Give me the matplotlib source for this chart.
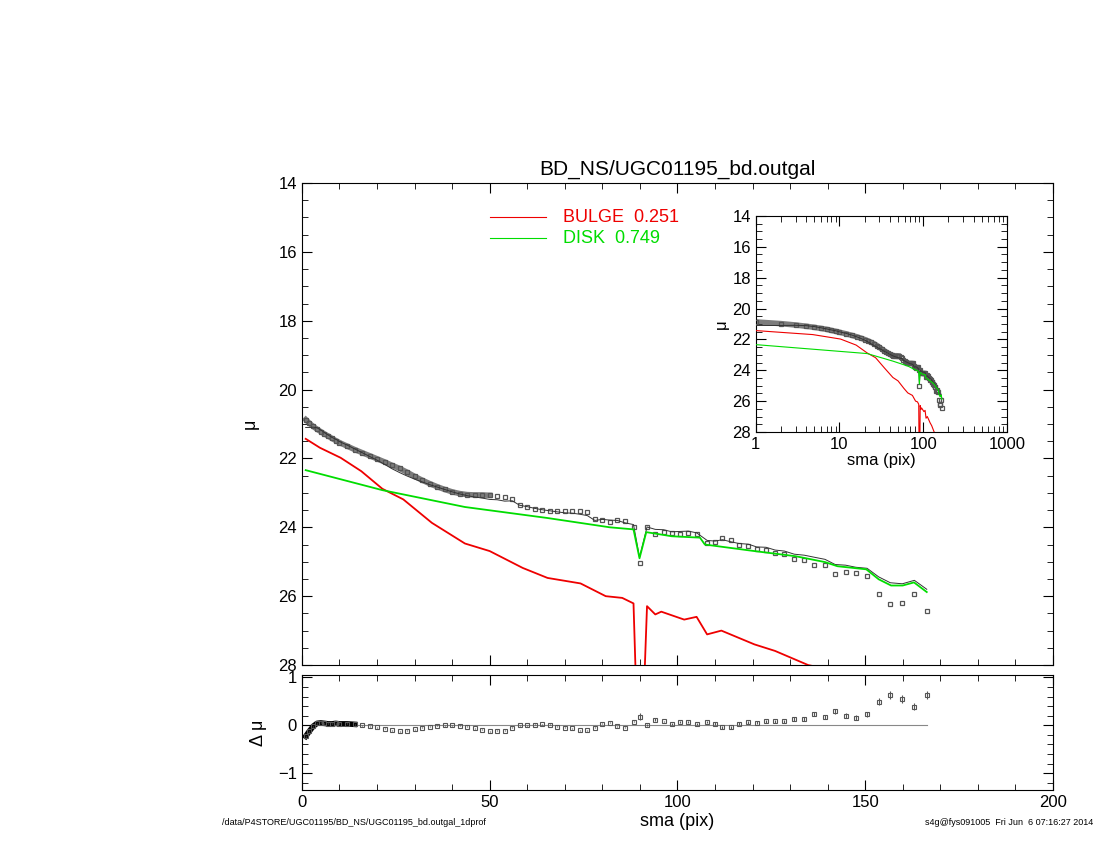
import numpy as np
import matplotlib
matplotlib.use("Agg")
import matplotlib.pyplot as plt
from matplotlib.ticker import MultipleLocator, LogLocator, NullFormatter

plt.rcParams['font.family'] = ['Liberation Sans', 'DejaVu Sans']

# observed isophote profile
sma_obs = [1, 2, 3, 4, 5, 6, 7, 8, 9, 10,
           12, 14, 16, 18, 20, 22, 24, 26, 28, 30,
           32, 34, 36, 38, 40, 42, 44, 46, 48, 50,
           52, 54, 56, 58, 60, 62, 64, 66, 68, 70,
           72, 74, 76, 78, 80, 82, 84, 86, 88.3,
           89.9, 91.9, 94.1, 96.3, 98.5, 100.7, 102.9, 105.1,
           107.9, 110, 112, 114.2, 116.4, 118.9, 121.1, 123.6, 126, 128.5, 131.1, 133.8,
           136.5, 139.3, 142, 144.8, 147.5, 150.5, 153.6, 156.7, 159.9, 163.1, 166.4]
mu_obs = [20.87, 20.98, 21.07, 21.15, 21.22, 21.29, 21.35, 21.42, 21.48, 21.54,
          21.64, 21.74, 21.83, 21.92, 22.01, 22.10, 22.20, 22.29, 22.40, 22.52,
          22.63, 22.73, 22.82, 22.90, 22.97, 23.02, 23.05, 23.06, 23.06, 23.07,
          23.09, 23.13, 23.18, 23.36, 23.40, 23.46, 23.51, 23.53, 23.52, 23.53,
          23.53, 23.52, 23.56, 23.75, 23.80, 23.84, 23.78, 23.82, 23.99,
          25.05, 23.99, 24.18, 24.15, 24.16, 24.19, 24.17, 24.18,
          24.45, 24.43, 24.32, 24.38, 24.50, 24.55, 24.62, 24.66, 24.74, 24.77, 24.91, 24.95,
          25.10, 25.10, 25.37, 25.30, 25.32, 25.42, 25.93, 26.24, 26.19, 25.93, 26.43]
resid = [-0.23, -0.12, -0.02, 0.04, 0.05, 0.04, 0.03, 0.03, 0.04, 0.03,
         0.03, 0.02, 0.0, -0.02, -0.04, -0.07, -0.10, -0.12, -0.11, -0.08,
         -0.05, -0.03, -0.01, 0.0, 0.0, -0.01, -0.03, -0.06, -0.09, -0.12,
         -0.11, -0.11, -0.05, 0.0, 0.0, 0.01, 0.02, 0.01, -0.03, -0.05,
         -0.06, -0.10, -0.10, -0.05, 0.03, 0.05, -0.02, -0.05, 0.07,
         0.18, 0.0, 0.12, 0.08, 0.03, 0.07, 0.06, 0.02,
         0.07, 0.03, -0.04, -0.04, 0.03, 0.06, 0.05, 0.08, 0.08, 0.08, 0.13, 0.14,
         0.23, 0.17, 0.29, 0.20, 0.16, 0.23, 0.49, 0.63, 0.55, 0.39, 0.63]
err_obs = [0.01] * 49 + [0.07, 0.02, 0.03, 0.02, 0.02, 0.02, 0.02, 0.02,
                         0.03, 0.03, 0.03, 0.03, 0.03, 0.03, 0.03, 0.03, 0.03, 0.03, 0.04, 0.04,
                         0.04, 0.04, 0.05, 0.05, 0.05, 0.05, 0.07, 0.08, 0.08, 0.07, 0.09]

# model components
sma_disk = [1, 21.4, 43.4, 65.4, 82, 88.3, 89.9, 91.7, 98.5, 106, 107.3, 120.5,
            131.5, 139.3, 142.6, 150.3, 153.6, 156.9, 160, 163, 166.4]
mu_disk = [22.34, 22.92, 23.41, 23.73, 24.0, 24.06, 24.9, 24.14, 24.26, 24.3, 24.5, 24.69,
           24.84, 25.01, 25.13, 25.22, 25.51, 25.69, 25.69, 25.6, 25.88]
sma_bulge = [1, 4.8, 10.3, 15.8, 21.4, 27, 34.6, 43.4, 50, 58.8, 65.4, 74.2, 80.9, 85.3,
             88.3, 89.5, 90.5, 91.9, 94.1, 95.7, 101.8, 105.1, 107.9, 111.7, 116.1,
             120.5, 126, 134.8, 150, 166.4]
mu_bulge = [21.43, 21.69, 21.98, 22.37, 22.88, 23.19, 23.87, 24.47, 24.69, 25.18, 25.47,
            25.63, 26.0, 26.05, 26.21, 30.5, 30.5, 26.29, 26.53, 26.45, 26.68, 26.6, 27.11,
            27.0, 27.2, 27.4, 27.59, 28.0, 28.35, 28.7]

sma_obs = np.array(sma_obs)
mu_obs = np.array(mu_obs)
resid = np.array(resid)
mu_model = mu_obs - resid

GREEN = '#00dd00'
RED = '#ee0000'
GREY = '#555555'

fig = plt.figure(figsize=(11, 8.5), dpi=100)
ax = fig.add_axes([0.2745, 0.2176, 0.6827, 0.5671])
axr = fig.add_axes([0.2745, 0.0706, 0.6827, 0.1353])
axi = fig.add_axes([0.687, 0.4918, 0.2285, 0.2542])


def style(a):
  a.tick_params(which='both', direction='in', top=True, right=True, labelsize=12)
  a.tick_params(which='major', length=7)
  a.tick_params(which='minor', length=4)
  for s in a.spines.values():
    s.set_linewidth(0.8)


def profile(a, lw_line=1.3, ms=3.5):
  a.plot(sma_obs, mu_obs, 's', mfc='none', mec=GREY, ms=ms, mew=0.9, zorder=3)
  a.plot(sma_obs[:30], mu_obs[:30], '-', color='#444444', lw=4, alpha=0.7, zorder=2)
  a.plot(sma_obs, mu_model, '-', color='#333333', lw=0.7, zorder=4)
  a.plot(sma_bulge, mu_bulge, '-', color=RED, lw=lw_line, zorder=4)
  a.plot(sma_disk, mu_disk, '-', color=GREEN, lw=lw_line, zorder=4)


profile(ax)
style(ax)
ax.set_xlim(0, 200)
ax.set_ylim(28, 14)
ax.xaxis.set_major_locator(MultipleLocator(50))
ax.xaxis.set_minor_locator(MultipleLocator(10))
ax.yaxis.set_major_locator(MultipleLocator(2))
ax.yaxis.set_minor_locator(MultipleLocator(0.5))
ax.set_xticklabels([])
ax.set_ylabel('μ', fontsize=13, labelpad=14)
ax.set_title('BD_NS/UGC01195_bd.outgal', fontsize=15, pad=6)

# legend drawn as lines + text
ax.plot([50, 65], [15.0, 15.0], color=RED, lw=0.8)
ax.plot([50, 65], [15.6, 15.6], color=GREEN, lw=0.8)
ax.text(69.5, 15.0, 'BULGE  0.251', color=RED, fontsize=13, va='center')
ax.text(69.5, 15.6, 'DISK  0.749', color=GREEN, fontsize=13, va='center')

# residuals
style(axr)
axr.errorbar(sma_obs, resid, yerr=err_obs, fmt='s', mfc='none', mec=GREY, ms=3,
             mew=0.8, ecolor=GREY, elinewidth=0.8, capsize=0, zorder=3)
axr.plot(sma_obs[:12], resid[:12], '-', color='black', lw=4, zorder=2)
axr.plot([0, sma_obs[-1]], [0, 0], color='#888888', lw=0.8, zorder=1)
axr.set_xlim(0, 200)
axr.set_ylim(-1.35, 1.05)
axr.xaxis.set_major_locator(MultipleLocator(50))
axr.xaxis.set_minor_locator(MultipleLocator(10))
axr.yaxis.set_minor_locator(MultipleLocator(0.2))
axr.set_yticks([-1, 0, 1])
axr.set_yticklabels(['\u22121', '0', '1'])
axr.set_xlabel('sma (pix)', fontsize=13, labelpad=2)
axr.set_ylabel('Δ μ', fontsize=13, labelpad=8)

# inset in log scale
profile(axi, lw_line=0.8, ms=3)
style(axi)
axi.set_xscale('log')
axi.set_xlim(1, 1000)
axi.set_ylim(28, 14)
axi.xaxis.set_minor_locator(LogLocator(base=10, subs=np.arange(2, 10)))
axi.xaxis.set_minor_formatter(NullFormatter())
axi.set_xticks([1, 10, 100, 1000])
axi.set_xticklabels(['1', '10', '100', '1000'])
axi.yaxis.set_major_locator(MultipleLocator(2))
axi.yaxis.set_minor_locator(MultipleLocator(0.5))
axi.set_xlabel('sma (pix)', fontsize=12, labelpad=1)
axi.set_ylabel('μ', fontsize=12, labelpad=2)

fig.text(0.202, 0.029, '/data/P4STORE/UGC01195/BD_NS/UGC01195_bd.outgal_1dprof', fontsize=6.5)
fig.text(0.994, 0.029, 's4g@fys091005  Fri Jun  6 07:16:27 2014', fontsize=6.5, ha='right')

fig.savefig('out.png', dpi=100)
